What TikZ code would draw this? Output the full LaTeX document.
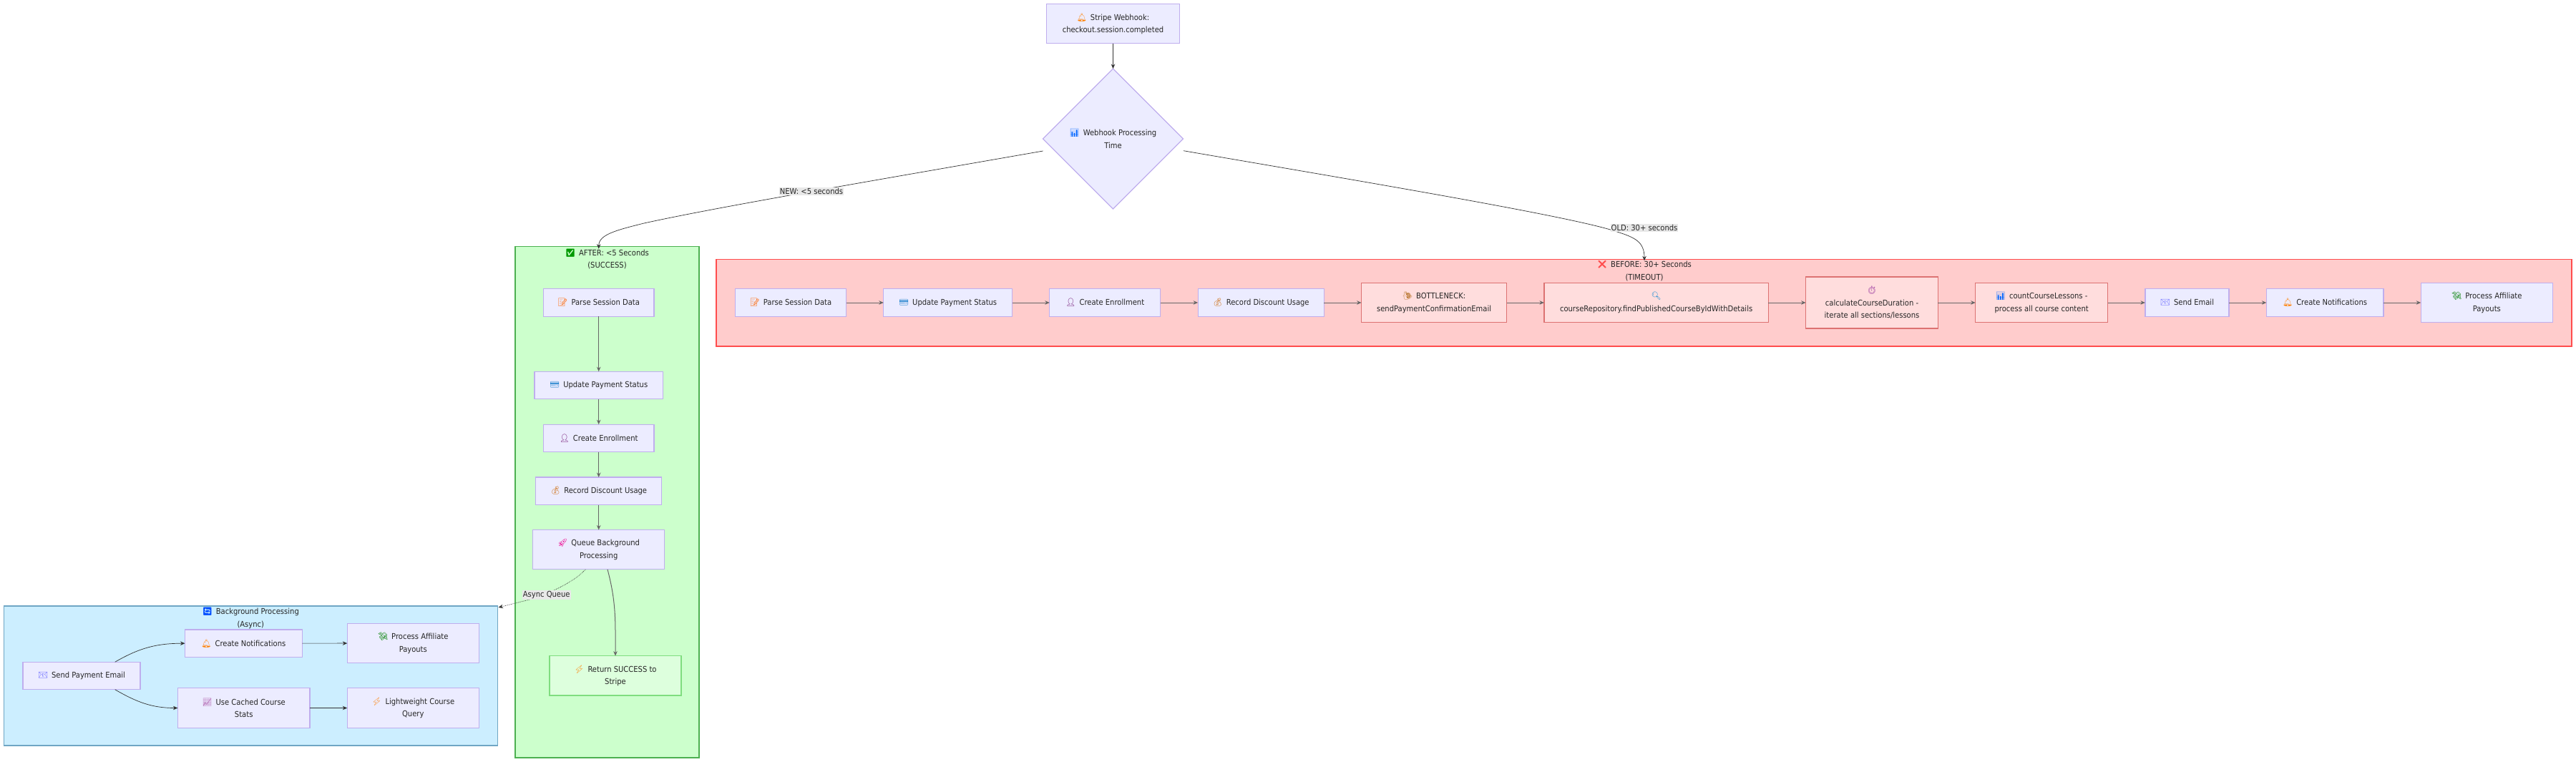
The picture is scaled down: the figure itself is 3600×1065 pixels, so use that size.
\documentclass[tikz,border=0pt]{standalone}
\usepackage{fontspec}
\setmainfont{DejaVu Sans Condensed}
\newfontfamily\emojifont{Noto Emoji}
\usetikzlibrary{positioning,arrows.meta,calc,shapes.geometric}
\definecolor{nodefill}{HTML}{ECECFF}
\definecolor{nodeline}{HTML}{BFAEEE}
\definecolor{slowfill}{HTML}{FFDDDD}
\definecolor{slowline}{HTML}{DC7272}
\definecolor{fastfill}{HTML}{DDFFDD}
\definecolor{fastline}{HTML}{7FDD7F}
\definecolor{beforefill}{HTML}{FFCCCC}
\definecolor{beforeline}{HTML}{FF4D4D}
\definecolor{afterfill}{HTML}{CCFFCC}
\definecolor{afterline}{HTML}{4CB050}
\definecolor{asyncfill}{HTML}{CCEEFF}
\definecolor{asyncline}{HTML}{6FA6C4}
\definecolor{labelfill}{HTML}{E8E8E8}
\definecolor{arrowline}{HTML}{333333}
\def\emo#1#2{{\emojifont\textcolor{#1}{#2}}\hspace{5pt}}
\tikzset{
	flow/.style={draw=nodeline,fill=nodefill,line width=1.2pt,outer sep=0pt,align=center,font=\fontsize{11.1}{17.3}\selectfont,inner sep=0pt,minimum height=38.5pt,text=black!85},
	flowtwo/.style={flow,minimum height=55.3pt},
	slow/.style={flowtwo,draw=slowline,fill=slowfill},
	fast/.style={flowtwo,draw=fastline,fill=fastfill},
	group/.style={line width=1.6pt,inner sep=0pt},
	grouptitle/.style={align=center,font=\fontsize{11.1}{17.3}\selectfont,text=black!85,inner sep=0pt},
	edgelabel/.style={fill=labelfill,inner sep=1pt,font=\fontsize{11.1}{13}\selectfont,text=black!85},
	headed/.style={-{Stealth[length=6.5pt,width=5.5pt]}},
	link/.style={headed,every edge/.append style={draw=arrowline,line width=.7pt}},
	trunk/.style={headed,every edge/.append style={draw=black!60,line width=1pt}},
	wire/.style={headed,draw=arrowline,line width=.7pt},
}
\begin{document}
\begin{tikzpicture}[x=1pt,y=-1pt,node distance=52.3pt,on grid=false]
\useasboundingbox (0,0) rectangle (3600,1065);
% panels
\path[group,draw=beforeline,fill=beforefill] (1001,362.3) rectangle (3594,484);
\path[group,draw=afterline,fill=afterfill] (720,344.3) rectangle (977,1059);
\path[group,draw=asyncline,fill=asyncfill] (5.5,846.7) rectangle (695.6,1042);
\node[grouptitle] (t_before) at (2298,378.5) {\emo{red!70!white}{❌}BEFORE: 30+ Seconds\\(TIMEOUT)};
\node[grouptitle] (t_after) at (848.5,362) {\emo{green!60!black}{✅}AFTER: <5 Seconds\\(SUCCESS)};
\node[grouptitle] (t_async) at (350.3,864) {\emo{blue!70!cyan}{🔄}Background Processing\\(Async)};
% top
\node[flowtwo,minimum width=186.6pt] (w_stripe) at (1555.5,33.2) {\emo{orange}{🔔}Stripe Webhook:\\checkout.session.completed};
\node[flow,diamond,shape aspect=1,minimum size=196pt] (w_time) at (1555.5,194) {\emo{blue!60!cyan}{📊}Webhook Processing\\Time};
% before row
\node[flow,minimum width=155pt,anchor=west] (b_parse) at (1027.5,423) {\emo{orange!80!red}{📝}Parse Session Data};
\node[flow,minimum width=179.7pt,anchor=west] (b_pay) [right=of b_parse] {\emo{cyan!60!blue}{💳}Update Payment Status};
\node[flow,minimum width=155pt,anchor=west] (b_enrol) [right=of b_pay] {\emo{violet!80!black}{👤}Create Enrollment};
\node[flow,minimum width=176.2pt,anchor=west] (b_disc) [right=of b_enrol] {\emo{orange!80!black}{💰}Record Discount Usage};
\node[slow,minimum width=203pt,anchor=west] (b_mail) [right=of b_disc] {\emo{brown}{🐌}BOTTLENECK:\\sendPaymentConfirmationEmail};
\node[slow,minimum width=313.4pt,anchor=west] (b_repo) [right=of b_mail] {\emo{cyan!70!blue}{🔍}\\courseRepository.findPublishedCourseByIdWithDetails};
\node[slow,minimum width=184.8pt,minimum height=72pt,anchor=west] (b_calc) [right=of b_repo] {\emo{violet!70}{⏱}\\calculateCourseDuration -\\iterate all sections/lessons};
\node[slow,minimum width=184.9pt,anchor=west] (b_count) [right=of b_calc] {\emo{blue!60!cyan}{📊}countCourseLessons -\\process all course content};
\node[flow,minimum width=117.1pt,anchor=west] (b_send) [right=of b_count] {\emo{blue!60}{📧}Send Email};
\node[flow,minimum width=163.6pt,anchor=west] (b_notif) [right=of b_send] {\emo{orange}{🔔}Create Notifications};
\node[flowtwo,minimum width=184.3pt,anchor=west] (b_aff) [right=of b_notif] {\emo{green!50!black}{💸}Process Affiliate\\Payouts};
% after column
\node[flow,minimum width=154.7pt] (a_parse) at (836.7,423) {\emo{orange!80!red}{📝}Parse Session Data};
\node[flow,minimum width=179.5pt,below=77pt of a_parse.south,anchor=north] (a_pay) {\emo{cyan!60!blue}{💳}Update Payment Status};
\node[flow,minimum width=154.7pt,below=35.4pt of a_pay.south,anchor=north] (a_enrol) {\emo{violet!80!black}{👤}Create Enrollment};
\node[flow,minimum width=176pt,below=35.4pt of a_enrol.south,anchor=north] (a_disc) {\emo{orange!80!black}{💰}Record Discount Usage};
\node[flowtwo,minimum width=184pt,below=35pt of a_disc.south,anchor=north] (a_queue) {\emo{magenta}{🚀}Queue Background\\Processing};
\node[fast,minimum width=184pt] (a_return) at (860,944.3) {\emo{orange}{⚡}Return SUCCESS to\\Stripe};
% async group
\node[flow,minimum width=164pt] (c_send) at (114,944.5) {\emo{blue!60}{📧}Send Payment Email};
\node[flow,minimum width=163.9pt] (c_notif) at (340.4,899.2) {\emo{orange}{🔔}Create Notifications};
\node[flowtwo,minimum width=184.6pt] (c_cache) at (340.7,989.5) {\emo{violet!60}{📈}Use Cached Course\\Stats};
\node[flowtwo,minimum width=184.1pt] (c_aff) at (577.3,899) {\emo{green!50!black}{💸}Process Affiliate\\Payouts};
\node[flowtwo,minimum width=184.1pt] (c_light) at (577.3,989.5) {\emo{orange}{⚡}Lightweight Course\\Query};
% connectors
\path[link] (w_stripe) edge (w_time);
\draw[wire] (1654,210.7) .. controls (1900,253) and (2200,303) .. (2260,324) .. controls (2285,332) and (2298,338) .. (t_before.north);
\draw[wire] (1457.6,211) .. controls (1200,256) and (1000,290) .. (900,312) .. controls (860,322) and (836.7,328) .. (a_parse.north |- t_after.north);
\path[trunk]
(b_parse) edge (b_pay)
(b_pay) edge (b_enrol)
(b_enrol) edge (b_disc)
(b_disc) edge (b_mail)
(b_mail) edge (b_repo)
(b_repo) edge (b_calc)
(b_calc) edge (b_count)
(b_count) edge (b_send)
(b_send) edge (b_notif)
(b_notif) edge (b_aff)
(a_parse) edge (a_pay)
(a_pay) edge (a_enrol)
(a_enrol) edge (a_disc)
(a_disc) edge (a_queue)
([xshift=12.3pt]a_queue.south) edge[out=-75,in=90] (a_return.north);
\path[link]
(c_notif) edge (c_aff)
(c_cache) edge (c_light)
([xshift=46.7pt]c_send.north) edge[out=30,in=180] (c_notif.west)
([xshift=46.7pt]c_send.south) edge[out=-30,in=180] (c_cache.west);
\draw[wire,densely dotted] ([xshift=-18.4pt]a_queue.south) .. controls (805,810) and (780,825) .. (740,838) -- (696.5,849);
% labels
\node[edgelabel] (l_new) at (1134,267.6) {NEW: <5 seconds};
\node[edgelabel] (l_old) at (2298,318.4) {OLD: 30+ seconds};
\node[edgelabel] (l_async) at (763.7,831.3) {Async Queue};
\end{tikzpicture}
\end{document}
